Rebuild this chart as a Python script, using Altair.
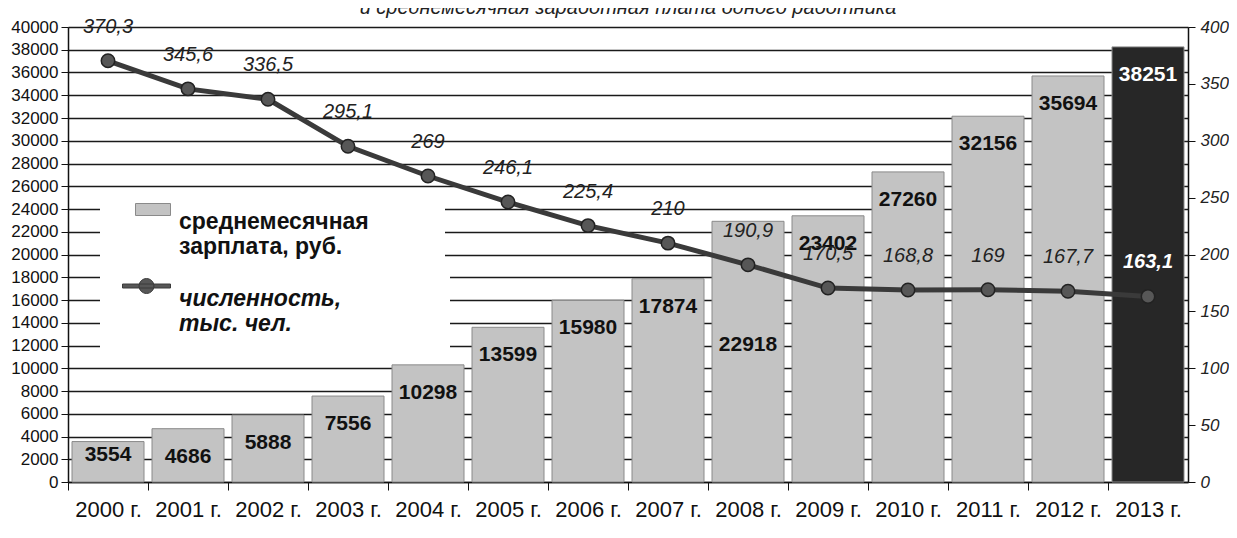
import altair as alt
import pandas as pd

years = ["2000 г.", "2001 г.", "2002 г.", "2003 г.", "2004 г.", "2005 г.", "2006 г.",
         "2007 г.", "2008 г.", "2009 г.", "2010 г.", "2011 г.", "2012 г.", "2013 г."]
salary = [3554, 4686, 5888, 7556, 10298, 13599, 15980, 17874, 22918, 23402, 27260, 32156, 35694, 38251]
employment = [370.3, 345.6, 336.5, 295.1, 269, 246.1, 225.4, 210, 190.9, 170.5, 168.8, 169, 167.7, 163.1]
emp_labels = [f"{v:g}".replace(".", ",") for v in employment]

BAR_SERIES = "среднемесячная|зарплата, руб."
LINE_SERIES = "численность,|тыс. чел."
TITLE = "и среднемесячная заработная плата одного работника"

df = pd.DataFrame({
    "year": years,
    "salary": salary,
    "employment": employment,
    "emp_label": emp_labels,
    "bar_series": BAR_SERIES,
    "line_series": LINE_SERIES,
})

W, H = 1120, 455
STEP = W / len(years)
FONT = "Liberation Sans"
LAST = "datum.year == '2013 г.'"

x = alt.X(
    "year:N", sort=years,
    scale=alt.Scale(paddingInner=0.1, paddingOuter=0.05),
    axis=alt.Axis(title=None, labelAngle=0, labelFontSize=22, labelFont=FONT, labelColor="#111",
                  tickOffset=-STEP / 2, labelOffset=STEP / 2, tickSize=8, tickColor="#111",
                  domainColor="#111", domainWidth=1.5, labelPadding=9),
)

y_left = alt.Y(
    "salary:Q", scale=alt.Scale(domain=[0, 40000], nice=False),
    axis=alt.Axis(orient="left", title=None, values=list(range(0, 40001, 2000)), format="d",
                  labelOverlap=False, grid=True, tickCount=30,
                  gridColor="#1a1a1a", gridWidth=1.4, labelFontSize=17, labelFont=FONT,
                  labelColor="#111", tickSize=7, tickColor="#111", domainColor="#111",
                  domainWidth=1.5, labelPadding=3),
)
y_right = alt.Y(
    "employment:Q", scale=alt.Scale(domain=[0, 400], nice=False),
    axis=alt.Axis(orient="right", title=None, values=list(range(0, 401, 50)), format="d",
                  labelOverlap=False, grid=False, tickCount=20,
                  labelFontSize=17, labelFont=FONT, labelFontStyle="italic", labelColor="#222",
                  tickSize=7, tickColor="#111", domainColor="#111", domainWidth=1.5, labelPadding=5),
)

bar_legend = alt.Legend(
    title="\u00a0", titleOrient="right", titlePadding=62,
    orient="none", legendX=32, legendY=163, padding=14, fillColor="white",
    symbolType="M-1,-1.057H1V-0.371H-1Z", symbolSize=1225, symbolOffset=21, labelOffset=8,
    labelFontSize=23, labelFontWeight="bold", labelFont=FONT, labelColor="#111",
    labelExpr="split(datum.label, '|')", labelLimit=400,
    symbolStrokeColor="#8a8a8a", symbolStrokeWidth=1,
)
line_legend = alt.Legend(
    title="\u00a0", titleOrient="right", titlePadding=95,
    orient="none", legendX=32, legendY=233, padding=14, fillColor="white",
    symbolType="M-1,-0.603H1V-0.437H-1Z M0.31,-0.52A0.31,0.31,0,1,1,-0.31,-0.52A0.31,0.31,0,1,1,0.31,-0.52Z",
    symbolSize=2304, symbolOffset=8, labelOffset=8,
    labelFontSize=23, labelFontWeight="bold", labelFontStyle="italic", labelFont=FONT,
    labelColor="#111", labelExpr="split(datum.label, '|')", labelLimit=400,
    symbolStrokeColor="#3a3a3a", symbolStrokeWidth=1,
)

base = alt.Chart(df)

bars = base.mark_bar(stroke="#8a8a8a", strokeWidth=1).encode(
    x=x, y=y_left,
    fill=alt.condition(LAST, alt.value("#272727"),
                       alt.Fill("bar_series:N", scale=alt.Scale(domain=[BAR_SERIES], range=["#c3c3c3"]),
                                legend=bar_legend)),
)

def bar_text(filter_expr, dy):
    return base.transform_filter(filter_expr).mark_text(
        font=FONT, fontSize=21, fontWeight="bold", baseline="middle", dy=dy
    ).encode(
        x=x, y=y_left, text=alt.Text("salary:Q", format="d"),
        color=alt.condition(LAST, alt.value("white"), alt.value("#111")),
    )

bar_labels = alt.layer(
    bar_text("datum.year != '2000 г.' && datum.year != '2008 г.'", 28),
    bar_text("datum.year == '2000 г.'", 13),
    bar_text("datum.year == '2008 г.'", 124),
)

line = base.mark_line(color="#3a3a3a", strokeWidth=5).encode(x=x, y=y_right)
points = base.mark_circle(size=180, stroke="#222", strokeWidth=1.5, opacity=1).encode(
    x=x, y=y_right,
    fill=alt.Fill("line_series:N", scale=alt.Scale(domain=[LINE_SERIES], range=["#575757"]),
                  legend=line_legend),
)
line_text = base.transform_filter("datum.year != '2013 г.'").mark_text(
    font=FONT, fontSize=20, fontStyle="italic", color="#222", baseline="middle", dy=-34
).encode(x=x, y=y_right, text="emp_label:N")
line_text_last = base.transform_filter(LAST).mark_text(
    font=FONT, fontSize=20, fontStyle="italic", fontWeight="bold", color="white", baseline="middle", dy=-34
).encode(x=x, y=y_right, text="emp_label:N")

title_text = alt.Chart(pd.DataFrame({"t": [TITLE]})).mark_text(
    font=FONT, fontSize=20, fontStyle="italic", color="#222", baseline="alphabetic", align="center"
).encode(x=alt.value(W / 2), y=alt.value(-13), text="t:N")

left = alt.layer(bars, bar_labels)
right = alt.layer(line, points, line_text, line_text_last)

chart = alt.layer(left, right, title_text).resolve_scale(
    y="independent", fill="independent"
).resolve_legend(fill="independent").properties(
    width=W, height=H,
    autosize=alt.AutoSizeParams(type="none"),
    padding={"left": 60, "top": 19, "right": 41, "bottom": 50},
).configure_view(stroke=None).configure(background="white")

chart.save("out.html", embed_options={"renderer": "svg", "actions": False})
